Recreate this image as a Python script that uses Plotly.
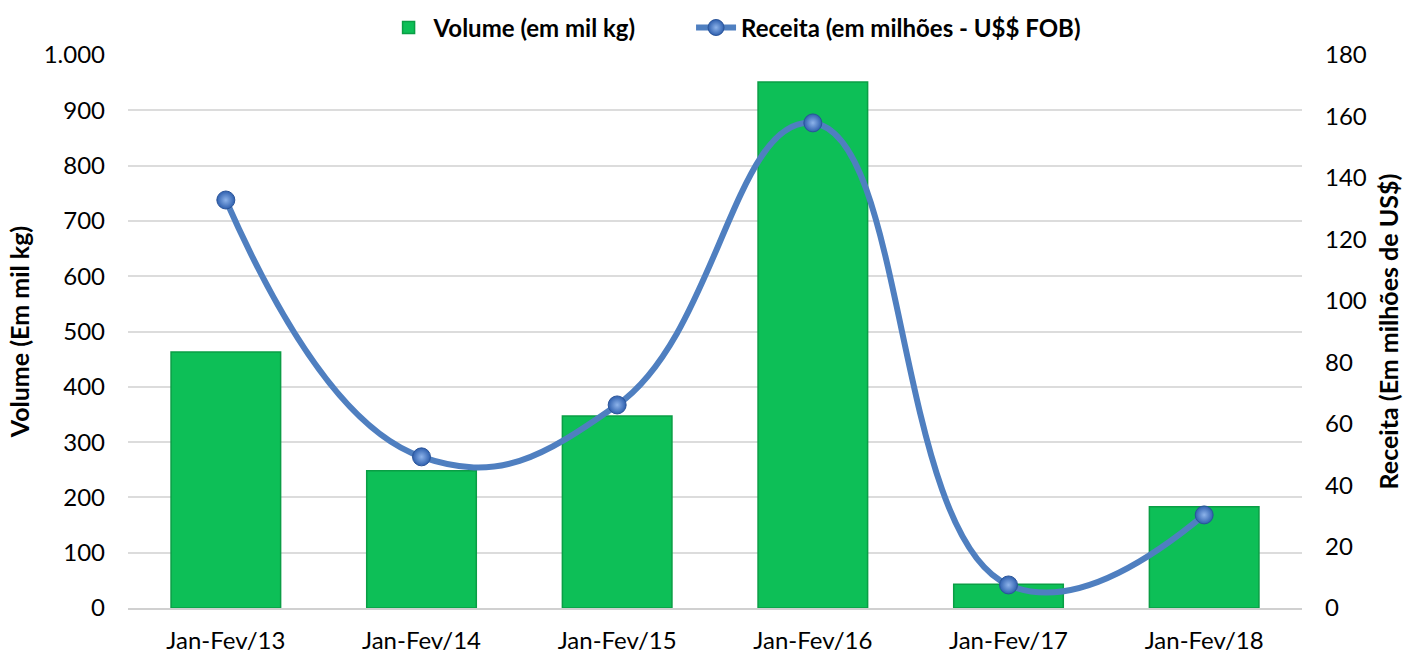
import plotly.graph_objects as go

# Export data, Jan-Fev of each year
periodos = ["Jan-Fev/13", "Jan-Fev/14", "Jan-Fev/15", "Jan-Fev/16", "Jan-Fev/17", "Jan-Fev/18"]
volume_mil_kg = [463, 248, 347, 951, 43, 183]
receita_milhoes = [132.8, 49.2, 66.1, 157.9, 7.5, 30.3]

vol_ticks = [0, 100, 200, 300, 400, 500, 600, 700, 800, 900, 1000]
vol_tick_text = ["0", "100", "200", "300", "400", "500", "600", "700", "800", "900", "1.000"]
rec_ticks = [0, 20, 40, 60, 80, 100, 120, 140, 160, 180]

FONT = "Lato, 'Noto Sans', sans-serif"

fig = go.Figure()

fig.add_trace(go.Bar(
    x=periodos, y=volume_mil_kg, name="Volume (em mil kg)",
    legend="legend",
    marker=dict(color="#0DBF57", line=dict(color="#0A9E45", width=1.5)),
    width=0.56,
))

fig.add_trace(go.Scatter(
    x=periodos, y=receita_milhoes, name="Receita (em milhões - U$$ FOB)",
    legend="legend2",
    yaxis="y2", mode="lines+markers",
    line=dict(color="#4F7FC0", width=6, shape="spline", smoothing=1.3),
    marker=dict(size=18, color="#2E5FAE",
                gradient=dict(type="radial", color="#8DB3EA"),
                line=dict(color="#2A5499", width=1)),
))

legend_style = dict(orientation="h", xanchor="left", y=1.049, yanchor="middle",
                    font=dict(size=24, family=FONT, weight="bold"),
                    itemwidth=40, bgcolor="rgba(0,0,0,0)")

fig.update_layout(
    width=1406, height=655,
    margin=dict(l=128, r=104, t=55, b=47, autoexpand=False),
    paper_bgcolor="white", plot_bgcolor="white",
    font=dict(family=FONT, size=24, color="#000000"),
    bargap=0.44,
    showlegend=True,
    legend=dict(x=0.2177, **legend_style),
    legend2=dict(x=0.4796, **legend_style),
    xaxis=dict(showgrid=False, showline=True, linecolor="#D0D0D0", linewidth=1.5,
               ticks="", tickfont=dict(size=24), ticklabelstandoff=10),
    yaxis=dict(range=[0, 1000], tickvals=vol_ticks, ticktext=vol_tick_text,
               showgrid=True, gridcolor="#DCDCDC", gridwidth=1.5, zeroline=False,
               showline=False, ticks="", ticklen=0, tickfont=dict(size=24),
               ticklabelstandoff=22,
               title=dict(text="Volume (Em mil kg)", font=dict(size=25, weight="bold"), standoff=6)),
    yaxis2=dict(range=[0, 180], tickvals=rec_ticks, overlaying="y", side="right",
                showgrid=False, zeroline=False, showline=False, ticks="",
                tickfont=dict(size=24), ticklabelstandoff=22,
                title=dict(text="Receita (Em milhões de US$)", font=dict(size=25, weight="bold"), standoff=14)),
)

fig.write_html("out.html")
